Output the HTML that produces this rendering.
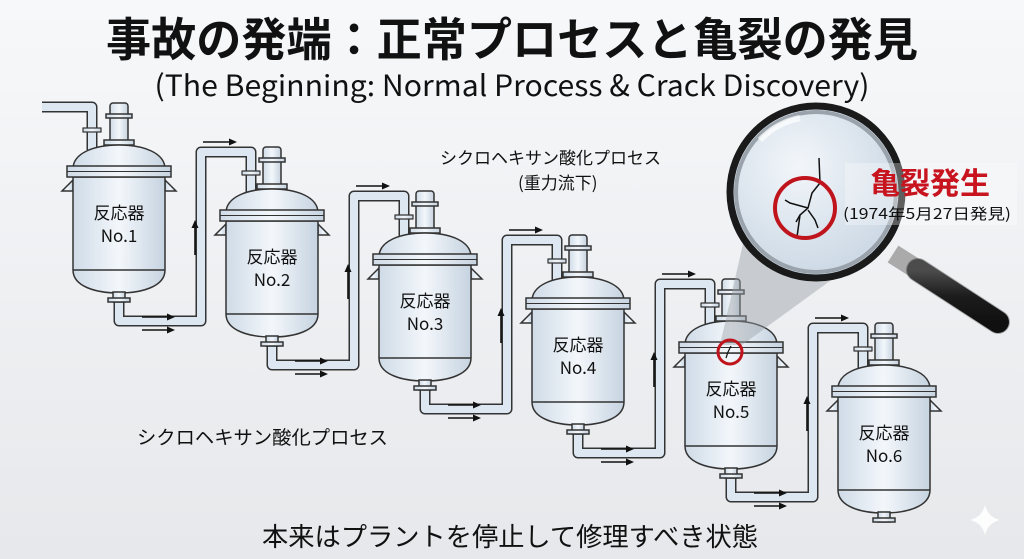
<!DOCTYPE html>
<html><head><meta charset="utf-8"><style>
html,body{margin:0;padding:0;width:1024px;height:559px;overflow:hidden;background:#eef1f4}
svg{display:block}
text{font-family:"Liberation Sans","Noto Sans CJK JP",sans-serif}
.cjk{font-family:"Noto Sans CJK JP",sans-serif}
</style></head><body>
<svg width="1024" height="559" viewBox="0 0 1024 559" xmlns="http://www.w3.org/2000/svg">
<defs>
<linearGradient id="bg" x1="0" y1="0" x2="0" y2="1"><stop offset="0" stop-color="#f6f8fa"/><stop offset="1" stop-color="#e6e8eb"/></linearGradient>
<linearGradient id="metal" x1="0" y1="0" x2="1" y2="0"><stop offset="0" stop-color="#cfdbe7"/><stop offset="0.5" stop-color="#f3f7fb"/><stop offset="1" stop-color="#c6d3e0"/></linearGradient>
<radialGradient id="lens" cx="0.4" cy="0.35" r="0.7"><stop offset="0" stop-color="#f2f6fa"/><stop offset="1" stop-color="#c9d6e3"/></radialGradient>
<linearGradient id="hdl" x1="0" y1="0" x2="0" y2="1"><stop offset="0" stop-color="#666"/><stop offset="0.5" stop-color="#222"/><stop offset="1" stop-color="#111"/></linearGradient>
<g id="reactor" stroke="#333" stroke-width="1.5" fill="url(#metal)">
 <rect x="-9" y="0" width="18" height="42" rx="3"/>
 <rect x="-13" y="11" width="26" height="4"/>
 <rect x="-15" y="37" width="30" height="5"/>
 <path d="M-46,66 C-46,50 -25,42 0,42 C25,42 46,50 46,66 Z"/>
 <polygon points="-46,77 -57,88 -46,88"/>
 <polygon points="46,77 57,88 46,88"/>
 <path d="M-46,74 L-46,167 C-46,184 -22,190 0,190 C22,190 46,184 46,167 L46,74 Z"/>
 <line x1="-46" y1="167" x2="46" y2="167"/>
 <rect x="-52" y="63" width="104" height="11"/>
 <line x1="-52" y1="68.5" x2="52" y2="68.5" stroke-width="1"/>
 <rect x="-6" y="189" width="12" height="10"/>
 <rect x="-11" y="195" width="22" height="4"/>
</g>
<g id="pipe" fill="none" stroke-linejoin="round">
 <path d="M0,199 L0,218 L82,218 L82,49 L132,49 L132,92" stroke="#333" stroke-width="11"/>
 <path d="M0,199 L0,218 L82,218 L82,49 L132,49 L132,92" stroke="#dde7f1" stroke-width="8"/>
 <rect x="123" y="68" width="18" height="4" fill="url(#metal)" stroke="#333" stroke-width="1.2"/>
</g>
<g id="arrows" stroke="#111" stroke-width="1.6" fill="#111">
 <line x1="23" y1="214" x2="50" y2="214"/><polygon points="56,214 48,210.5 48,217.5" stroke="none"/>
 <line x1="23" y1="227" x2="50" y2="227"/><polygon points="56,227 48,223.5 48,230.5" stroke="none"/>
 <line x1="76" y1="152" x2="76" y2="124"/><polygon points="76,117 72.5,125 79.5,125" stroke="none"/>
 <line x1="84" y1="39" x2="112" y2="39"/><polygon points="118,39 110,35.5 110,42.5" stroke="none"/>
</g>
</defs>
<rect width="1024" height="559" fill="url(#bg)"/>

<text x="512" y="56" text-anchor="middle" font-size="46" font-weight="bold" fill="#111" textLength="812" lengthAdjust="spacingAndGlyphs">事故の発端：正常プロセスと亀裂の発見</text>
<text class="cjk" x="512" y="96" text-anchor="middle" font-size="29" fill="#111" textLength="715" lengthAdjust="spacingAndGlyphs">(The Beginning: Normal Process &amp; Crack Discovery)</text>

<path d="M42,107 L92,107 L92,150" fill="none" stroke="#333" stroke-width="11" stroke-linejoin="round"/>
<path d="M42,107 L92,107 L92,150" fill="none" stroke="#dde7f1" stroke-width="8" stroke-linejoin="round"/>
<rect x="83" y="128" width="18" height="4" fill="url(#metal)" stroke="#333" stroke-width="1.2"/>

<use href="#pipe" transform="translate(119,103)"/>
<use href="#pipe" transform="translate(272,147)"/>
<use href="#pipe" transform="translate(425,191)"/>
<use href="#pipe" transform="translate(578,235)"/>
<use href="#pipe" transform="translate(731,279)"/>

<use href="#reactor" transform="translate(119,103)"/>
<use href="#reactor" transform="translate(272,147)"/>
<use href="#reactor" transform="translate(425,191)"/>
<use href="#reactor" transform="translate(578,235)"/>
<use href="#reactor" transform="translate(731,279)"/>
<use href="#reactor" transform="translate(884,323)"/>

<use href="#arrows" transform="translate(119,103)"/>
<use href="#arrows" transform="translate(272,147)"/>
<use href="#arrows" transform="translate(425,191)"/>
<use href="#arrows" transform="translate(578,235)"/>
<use href="#arrows" transform="translate(731,279)"/>

<g class="cjk" font-size="17" fill="#111" text-anchor="middle">
<text class="cjk" x="119" y="219">反応器</text><text class="cjk" x="119" y="242">No.1</text>
<text class="cjk" x="272" y="263">反応器</text><text class="cjk" x="272" y="286">No.2</text>
<text class="cjk" x="425" y="307">反応器</text><text class="cjk" x="425" y="330">No.3</text>
<text class="cjk" x="578" y="351">反応器</text><text class="cjk" x="578" y="374">No.4</text>
<text class="cjk" x="731" y="395">反応器</text><text class="cjk" x="731" y="418">No.5</text>
<text class="cjk" x="884" y="439">反応器</text><text class="cjk" x="884" y="462">No.6</text>
</g>

<text x="440" y="164" font-size="17" fill="#111">シクロヘキサン酸化プロセス</text>
<text class="cjk" x="518" y="189" font-size="17" fill="#111">(重力流下)</text>
<text x="137" y="444" font-size="19" fill="#111" textLength="251" lengthAdjust="spacingAndGlyphs">シクロヘキサン酸化プロセス</text>
<text x="510" y="546" text-anchor="middle" font-size="26" fill="#111" textLength="496" lengthAdjust="spacingAndGlyphs">本来はプラントを停止して修理すべき状態</text>

<polygon points="720,345 742,345 845,270 745,235" fill="#9aa0a6" opacity="0.45"/>
<line x1="893" y1="254" x2="915" y2="268" stroke="#aaa" stroke-width="20"/>
<line x1="918" y1="270" x2="998" y2="322" stroke="url(#hdl)" stroke-width="22" stroke-linecap="round"/>
<line x1="918" y1="270" x2="998" y2="322" stroke="#111" stroke-width="24" stroke-linecap="round" fill="none" opacity="0.3"/>
<circle cx="816" cy="192" r="86" fill="url(#lens)" stroke="#1a1a1a" stroke-width="7"/>
<circle cx="816" cy="192" r="80" fill="none" stroke="#9aa3ab" stroke-width="4"/>
<path d="M760,140 A75,75 0 0 1 800,118" stroke="#fff" stroke-width="6" fill="none" opacity="0.7"/>
<g stroke="#111" stroke-width="1.5" fill="none">
<path d="M819,158 L820,183 L812,193 L808,208 L800,215 L797,237"/>
<path d="M808,208 L790,203 L785,200"/>
<path d="M808,210 L815,220 L818,228"/>
<path d="M800,215 L796,222"/>
</g>
<circle cx="805" cy="208" r="30" fill="none" stroke="#c0141c" stroke-width="4"/>
<circle cx="730" cy="352" r="12" fill="none" stroke="#c0141c" stroke-width="3"/>
<path d="M731,346 L728,352 L726,358" stroke="#111" stroke-width="1.2" fill="none"/>
<rect x="845" y="163" width="172" height="62" fill="#ffffff" opacity="0.3"/>
<text x="930" y="194" text-anchor="middle" font-size="30" font-weight="bold" fill="#c8141e">亀裂発生</text>
<text class="cjk" x="927" y="219" text-anchor="middle" font-size="15" fill="#111" textLength="168" lengthAdjust="spacingAndGlyphs">(1974年5月27日発見)</text>
<path d="M985,505 Q988,517 1000,520 Q988,523 985,535 Q982,523 970,520 Q982,517 985,505Z" fill="#fff" opacity="0.9"/>
</svg>
</body></html>
